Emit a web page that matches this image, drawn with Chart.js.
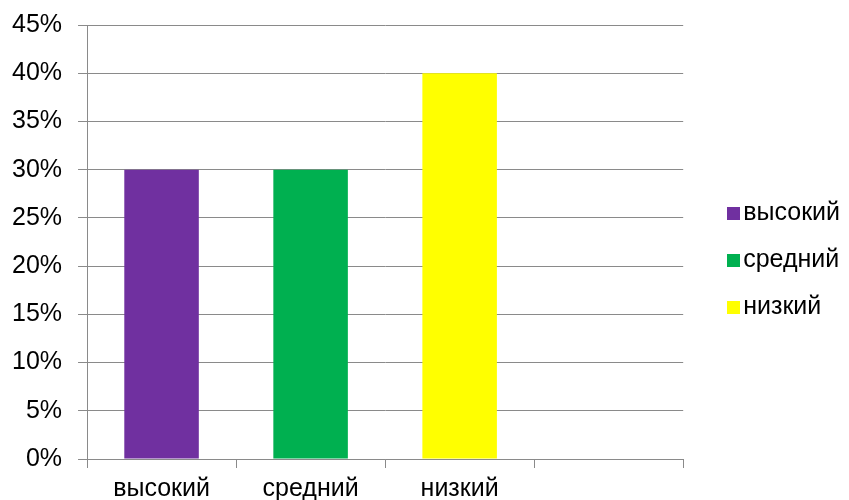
<!DOCTYPE html>
<html>
<head>
<meta charset="utf-8">
<script src="https://cdn.jsdelivr.net/npm/chart.js@4/dist/chart.umd.min.js"></script>
<style>
html,body{margin:0;padding:0;background:#fff;}
#wrap{width:849px;height:500px;position:relative;}
</style>
</head>
<body>
<div id="wrap"><canvas id="c" width="849" height="500"></canvas></div>
<script>
const categories = ['высокий', 'средний', 'низкий', ''];
const values = [30, 30, 40, null];
const barColors = ['#7030A0', '#00B050', '#FFFF00', '#ffffff'];
const yTicks = [0, 5, 10, 15, 20, 25, 30, 35, 40, 45];

const FONT = "'Liberation Sans', Arial, sans-serif";
const gridColor = '#8a8a8a';

function makeMarker(color) {
  const W = 44, S = 13;
  const cv = document.createElement('canvas');
  cv.width = W; cv.height = S;
  const cx = cv.getContext('2d');
  cx.fillStyle = color;
  cx.fillRect(W - S, 0, S, S);
  return cv;
}

new Chart(document.getElementById('c'), {
  type: 'bar',
  data: {
    labels: categories,
    datasets: [{
      data: values,
      backgroundColor: barColors,
      borderWidth: 0,
      categoryPercentage: 1.0,
      barPercentage: 0.5
    }]
  },
  options: {
    responsive: false,
    animation: false,
    devicePixelRatio: 1,
    layout: { padding: { left: -4, right: -1, top: 11, bottom: -10 } },
    plugins: {
      tooltip: { enabled: false },
      legend: {
        position: 'right',
        labels: {
          usePointStyle: true,
          pointStyleWidth: 25.5,
          padding: 22,
          color: '#000',
          font: { family: FONT, size: 25 },
          generateLabels: function () {
            return categories.slice(0, 3).map((c, i) => ({
              text: c,
              pointStyle: makeMarker(barColors[i]),
              fillStyle: barColors[i],
              strokeStyle: barColors[i],
              lineWidth: 0,
              hidden: false,
              index: i,
              datasetIndex: 0
            }));
          }
        }
      }
    },
    scales: {
      x: {
        offset: true,
        border: { display: true, color: gridColor, width: 1 },
        grid: { display: true, offset: true, drawOnChartArea: false, drawTicks: true, tickLength: 9, color: gridColor },
        ticks: { color: '#000', font: { family: FONT, size: 25 }, padding: 6, maxRotation: 0, autoSkip: false }
      },
      y: {
        min: 0,
        max: 45,
        afterBuildTicks: (axis) => { axis.ticks = yTicks.map(v => ({ value: v })); },
        afterFit: (axis) => { axis.paddingTop = 25; },
        border: { display: true, color: gridColor, width: 1 },
        grid: { color: gridColor, lineWidth: 1, tickLength: 9, drawTicks: true },
        ticks: {
          color: '#000',
          font: { family: FONT, size: 25 },
          padding: 16,
          callback: (v) => v + '%'
        }
      }
    }
  }
});
</script>
</body>
</html>
